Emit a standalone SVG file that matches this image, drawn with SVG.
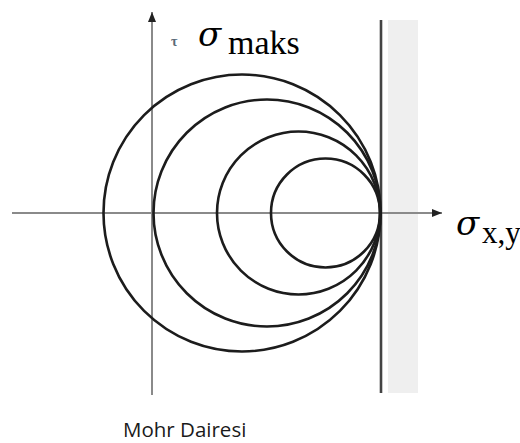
<svg xmlns="http://www.w3.org/2000/svg" width="520" height="443" viewBox="0 0 520 443">
<style>
.axis{stroke:#8a8a8a;stroke-width:2;fill:none}
.circ{stroke:#1c1c1c;stroke-width:2.6;fill:none}
.sig{font-family:"DejaVu Serif","Liberation Serif",serif;font-style:italic;fill:#000}
.sub{font-family:"Liberation Serif","DejaVu Serif",serif;fill:#000}
</style>
<defs>
<marker id="ah2" viewBox="0 0 10 10" refX="10" refY="5" markerWidth="14" markerHeight="10" orient="auto" markerUnits="userSpaceOnUse">
<path d="M0,1 L10,5 L0,9 z" fill="#222"/>
</marker>
</defs>
<rect x="388" y="20" width="30" height="373" fill="#efefef"/>
<g id="connectors">
<line class="axis" x1="12" y1="213" x2="442" y2="213" marker-end="url(#ah2)"/>
<line class="axis" x1="152" y1="395" x2="152" y2="12" marker-end="url(#ah2)"/>
<line x1="381" y1="20" x2="381" y2="393" stroke="#444" stroke-width="2.6"/>
</g>
<g id="circle1"><circle class="circ" cx="242" cy="213" r="138.5"/></g>
<g id="circle2"><circle class="circ" cx="267" cy="213" r="113.5"/></g>
<g id="circle3"><circle class="circ" cx="298.5" cy="213" r="81.5"/></g>
<g id="circle4"><circle class="circ" cx="325.5" cy="213" r="54.5"/></g>
<g id="labels">
<text x="171" y="46" font-family="Liberation Serif,serif" font-size="14" fill="#5a6a78" font-weight="bold">τ</text>
<text class="sig" x="198" y="46" font-size="34">σ</text>
<text class="sub" x="228" y="54" font-size="34">maks</text>
<text class="sig" x="456" y="235" font-size="34">σ</text>
<text class="sub" x="482" y="243" font-size="31">x,y</text>
<text x="123" y="437" font-family="'Open Sans',sans-serif" font-size="20.5" fill="#1a1a1a">Mohr Dairesi</text>
</g>
</svg>
